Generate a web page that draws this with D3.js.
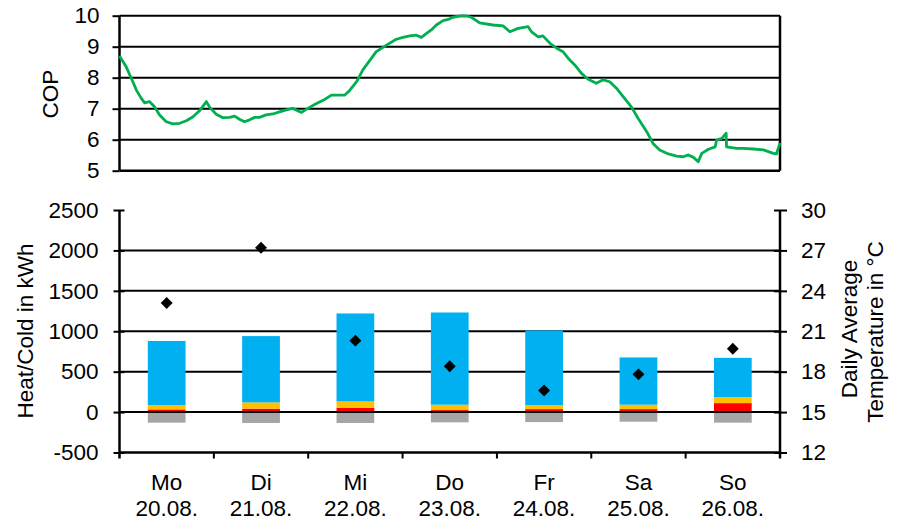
<!DOCTYPE html>
<html>
<head>
<meta charset="utf-8">
<script src="https://cdn.jsdelivr.net/npm/d3@7"></script>
<style>
  html, body { margin: 0; padding: 0; background: #fff; }
  svg { display: block; font-family: "Liberation Sans", Arial, sans-serif; }
  text { fill: #000; }
</style>
</head>
<body>
<svg id="chart" width="903" height="523"></svg>
<script>
// COP over the week (hour since Monday 00:00, value)
const copHours = [0,1.7,3.4,4.3,5.5,6.4,7.6,8.9,10.2,11.9,13.6,15.3,17.0,18.7,20.4,22.1,22.9,24.6,26.3,28.0,29.3,30.5,31.8,33.1,34.4,35.6,37.3,39.0,40.7,42.4,44.1,46.3,47.9,50.1,52.2,53.9,55.6,57.3,58.5,60.3,61.9,64.1,65.3,67.9,70.4,72.1,73.8,75.5,76.8,78.1,79.3,80.6,82.3,83.6,84.8,86.5,88.3,89.5,91.6,95.0,97.6,99.3,101.4,103.9,104.8,106.5,107.7,109.5,111.2,112.8,114.1,115.8,117.5,119.2,121.3,123.0,124.7,126.4,128.1,130.2,131.9,134.1,135.7,137.4,139.6,141.7,143.4,144.7,146.0,147.2,148.1,149.8,151.5,151.9,153.2,154.3,154.4,157.0,158.7,161.2,163.8,166.3,167.1,168];
const copValues = [8.70,8.35,7.87,7.60,7.34,7.19,7.23,7.06,6.80,6.58,6.51,6.53,6.61,6.74,6.94,7.23,7.05,6.82,6.71,6.72,6.76,6.66,6.58,6.64,6.72,6.72,6.80,6.83,6.90,6.96,7.01,6.88,7.01,7.17,7.30,7.44,7.44,7.44,7.58,7.87,8.25,8.63,8.84,9.05,9.24,9.30,9.35,9.37,9.30,9.43,9.54,9.70,9.84,9.88,9.95,9.99,9.99,9.95,9.77,9.70,9.67,9.48,9.59,9.65,9.48,9.32,9.35,9.11,8.95,8.84,8.63,8.41,8.14,7.95,7.82,7.93,7.87,7.66,7.39,7.06,6.69,6.26,5.88,5.67,5.54,5.47,5.45,5.51,5.43,5.29,5.56,5.69,5.77,5.99,6.04,6.21,5.77,5.72,5.72,5.70,5.67,5.56,5.54,5.90];
const copTicks = [5,6,7,8,9,10];

// Daily energy balance (kWh) and daily average temperature (°C)
const dayNames = ["Mo","Di","Mi","Do","Fr","Sa","So"];
const dayDates = ["20.08.","21.08.","22.08.","23.08.","24.08.","25.08.","26.08."];
const coldValues = [794, 820, 1088, 1141, 924, 585, 486];   // blue
const yellowValues = [53, 78, 78, 66, 49, 54, 74];
const redValues = [33, 42, 54, 25, 37, 37, 111];
const greyValues = [-131, -135, -135, -127, -124, -119, -131];
const tempValues = [23.1, 27.2, 20.3, 18.4, 16.6, 17.8, 19.7];
const energyTicks = [-500,0,500,1000,1500,2000,2500];
const tempTicks = [12,15,18,21,24,27,30];

const svg = d3.select("#chart");
const FS = 22.5;
const x0 = 119.5, x1 = 780;
const plain = d => String(d);

// ---------- upper panel: COP ----------
const xTime = d3.scaleLinear().domain([0,168]).range([x0,x1]);
const yCop = d3.scaleLinear().domain([5,10]).range([170.7,15.7]);

const copPanel = svg.append("g");
copPanel.selectAll("line.grid").data(copTicks.filter(d => d > 5)).join("line")
  .attr("x1", x0).attr("x2", x1)
  .attr("y1", d => yCop(d)).attr("y2", d => yCop(d))
  .attr("stroke", "#000").attr("stroke-width", 2);

const copAxis = copPanel.append("g").attr("transform", `translate(${x0},0)`)
  .call(d3.axisLeft(yCop).tickValues(copTicks).tickSize(7).tickPadding(13).tickFormat(plain));
copAxis.select(".domain").remove();
copAxis.selectAll(".tick line").attr("stroke", "#000").attr("stroke-width", 2);
copAxis.selectAll("text").style("font-size", FS + "px").attr("fill", "#000");

copPanel.append("line").attr("x1", x0).attr("x2", x0).attr("y1", yCop(10)).attr("y2", yCop(5))
  .attr("stroke", "#000").attr("stroke-width", 2.5);
copPanel.append("line").attr("x1", x1).attr("x2", x1).attr("y1", yCop(10)).attr("y2", yCop(5))
  .attr("stroke", "#000").attr("stroke-width", 2.5);
copPanel.append("line").attr("x1", x0).attr("x2", x1).attr("y1", yCop(5)).attr("y2", yCop(5))
  .attr("stroke", "#000").attr("stroke-width", 2.5);

const copLine = d3.line().x((d,i) => xTime(copHours[i])).y(d => yCop(d));
copPanel.append("path").datum(copValues).attr("d", copLine)
  .attr("fill", "none").attr("stroke", "#00B050").attr("stroke-width", 2.8)
  .attr("stroke-linejoin", "round");

copPanel.append("text").attr("transform", "translate(57.5,94) rotate(-90)")
  .attr("text-anchor", "middle").style("font-size", FS + "px").text("COP");

// ---------- lower panel: energy and temperature ----------
const xDay = d3.scaleBand().domain(dayNames).range([x0,x1]).paddingInner(0.6).paddingOuter(0.3);
const yE = d3.scaleLinear().domain([-500,2500]).range([452.5,210]);
const yT = d3.scaleLinear().domain([12,30]).range([452.5,210]);

const energyPanel = svg.append("g");
energyPanel.selectAll("line.grid").data([0,500,1000,1500,2000]).join("line")
  .attr("x1", x0).attr("x2", x1)
  .attr("y1", d => yE(d)).attr("y2", d => yE(d))
  .attr("stroke", "#000").attr("stroke-width", 2);

const rows = dayNames.map((d,i) => ({day: d, grey: greyValues[i], red: redValues[i], yellow: yellowValues[i], blue: coldValues[i]}));
const stack = d3.stack().keys(["grey","red","yellow","blue"]).offset(d3.stackOffsetDiverging);
const colors = {grey: "#A6A6A6", red: "#FF0000", yellow: "#FFC000", blue: "#00B0F0"};
energyPanel.selectAll("g.layer").data(stack(rows)).join("g")
  .attr("fill", s => colors[s.key])
  .selectAll("rect").data(s => s).join("rect")
  .attr("x", d => xDay(d.data.day))
  .attr("width", xDay.bandwidth())
  .attr("y", d => yE(Math.max(d[0], d[1])))
  .attr("height", d => Math.abs(yE(d[0]) - yE(d[1])));

// zero line drawn again on top of the bars
energyPanel.append("line").attr("x1", x0).attr("x2", x1).attr("y1", yE(0)).attr("y2", yE(0))
  .attr("stroke", "#000").attr("stroke-width", 2);

// left axis (ticks crossing the axis line)
const leftAxis = energyPanel.append("g").attr("transform", `translate(${x0},0)`)
  .call(d3.axisLeft(yE).tickValues(energyTicks).tickSize(6).tickPadding(15).tickFormat(plain));
leftAxis.select(".domain").remove();
leftAxis.selectAll(".tick line").attr("x1", 5).attr("stroke", "#000").attr("stroke-width", 2);
leftAxis.selectAll("text").style("font-size", FS + "px").attr("fill", "#000");
energyPanel.append("line").attr("x1", x0).attr("x2", x0).attr("y1", yE(2500)).attr("y2", yE(-500) + 6)
  .attr("stroke", "#000").attr("stroke-width", 2.5);

// right axis
const rightAxis = energyPanel.append("g").attr("transform", `translate(${x1},0)`)
  .call(d3.axisRight(yT).tickValues(tempTicks).tickSize(7).tickPadding(14).tickFormat(plain));
rightAxis.select(".domain").remove();
rightAxis.selectAll(".tick line").attr("x1", -6).attr("stroke", "#000").attr("stroke-width", 2);
rightAxis.selectAll("text").style("font-size", FS + "px").attr("fill", "#000");
energyPanel.append("line").attr("x1", x1).attr("x2", x1).attr("y1", yT(30)).attr("y2", yT(12) + 6)
  .attr("stroke", "#000").attr("stroke-width", 2.5);

// category axis at -500 with separators between days
const yBase = yE(-500);
energyPanel.append("line").attr("x1", x0).attr("x2", x1).attr("y1", yBase).attr("y2", yBase)
  .attr("stroke", "#000").attr("stroke-width", 2.5);
const step = xDay.step();
const gap = xDay.paddingInner() * step / 2;
energyPanel.selectAll("line.sep").data(dayNames.slice(1)).join("line")
  .attr("x1", d => xDay(d) - gap)
  .attr("x2", d => xDay(d) - gap)
  .attr("y1", yBase).attr("y2", yBase + 6)
  .attr("stroke", "#000").attr("stroke-width", 2);

const cat = energyPanel.selectAll("text.cat").data(dayNames).join("text")
  .attr("text-anchor", "middle").style("font-size", FS + "px");
cat.append("tspan").attr("x", d => xDay(d) + xDay.bandwidth() / 2).attr("y", 489.5).text(d => d);
cat.append("tspan").attr("x", d => xDay(d) + xDay.bandwidth() / 2).attr("y", 516).text((d,i) => dayDates[i]);

// temperature markers
const diamond = d3.symbol().type(d3.symbolDiamond2).size(90);
energyPanel.selectAll("path.temp").data(tempValues).join("path")
  .attr("d", diamond)
  .attr("transform", (d,i) => `translate(${xDay(dayNames[i]) + xDay.bandwidth() / 2},${yT(d)})`)
  .attr("fill", "#000");

// axis titles
energyPanel.append("text").attr("transform", "translate(33,331) rotate(-90)")
  .attr("text-anchor", "middle").style("font-size", FS + "px").text("Heat/Cold in kWh");
energyPanel.append("text").attr("transform", "translate(857,329) rotate(-90)")
  .attr("text-anchor", "middle").style("font-size", FS + "px").text("Daily Average");
energyPanel.append("text").attr("transform", "translate(882.5,332) rotate(-90)")
  .attr("text-anchor", "middle").style("font-size", FS + "px").text("Temperature in °C");
</script>
</body>
</html>
